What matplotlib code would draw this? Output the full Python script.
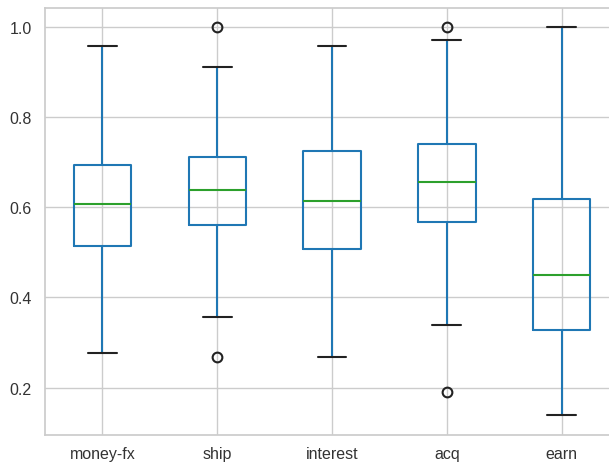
import matplotlib
matplotlib.use("Agg")
import matplotlib.pyplot as plt
import seaborn as sns

sns.set_theme(style="whitegrid")
plt.rcParams["font.family"] = ["Liberation Sans", "DejaVu Sans"]

categories = ["money-fx", "ship", "interest", "acq", "earn"]
whisker_low = [0.2765, 0.357, 0.268, 0.339, 0.139]
q1 = [0.514, 0.561, 0.507, 0.567, 0.328]
median = [0.607, 0.638, 0.613, 0.657, 0.450]
q3 = [0.694, 0.711, 0.7255, 0.740, 0.618]
whisker_high = [0.9585, 0.912, 0.9585, 0.970, 1.000]
outliers = [[], [1.000, 0.267], [], [1.000, 0.191], []]

stats = []
for i, name in enumerate(categories):
    stats.append(dict(label=name, whislo=whisker_low[i], q1=q1[i], med=median[i],
                      q3=q3[i], whishi=whisker_high[i], fliers=outliers[i]))

fig = plt.figure(figsize=(6.09, 4.64), dpi=100)
ax = fig.add_axes([45 / 609, 28 / 464, 574 / 609, 427 / 464])

blue = "#1f77b4"
ax.bxp(stats, positions=range(1, 6), widths=0.5,
       boxprops=dict(color=blue, linewidth=1.5),
       whiskerprops=dict(color=blue, linewidth=1.5),
       capprops=dict(color="#222222", linewidth=1.5),
       medianprops=dict(color="#2ca02c", linewidth=1.5),
       flierprops=dict(marker="o", markerfacecolor="none", markeredgecolor="#222222",
                       markersize=7, markeredgewidth=1.5))

ax.set_xlim(0.5, 5.5)
ax.set_ylim(0.095, 1.042)
ax.set_yticks([0.2, 0.4, 0.6, 0.8, 1.0])
ax.tick_params(axis="both", labelsize=11.5, colors="#333333")
ax.tick_params(axis="x", pad=2)
ax.grid(True, color="#cccccc", linewidth=1)
for s in ax.spines.values():
    s.set_color("#cccccc")
    s.set_linewidth(1.25)

fig.savefig("out.png", dpi=100)
